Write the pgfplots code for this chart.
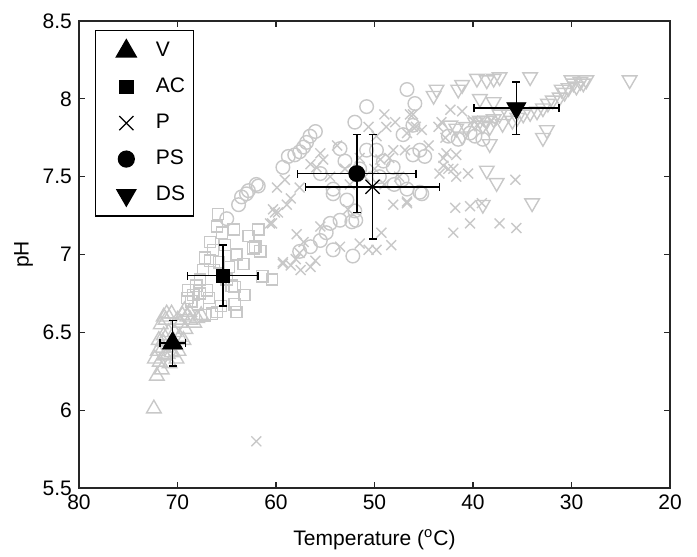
\documentclass[border=0pt]{standalone}
\usepackage{fontspec}
\setmainfont{Liberation Sans}
\usepackage{pgfplots}
\pgfplotsset{compat=1.18}
\definecolor{lg}{RGB}{200,200,200}

\pgfplotstableread{
T pH
72.4 6.01
72.1 6.22
71.6 6.26
72.3 6.33
71.8 6.31
71.3 6.35
72.0 6.38
71.5 6.40
71.0 6.36
70.6 6.37
71.9 6.45
71.4 6.48
70.9 6.50
71.7 6.55
71.2 6.58
71.1 6.62
71.4 6.60
70.3 6.50
69.8 6.47
69.4 6.45
69.2 6.52
69.7 6.56
70.0 6.58
69.5 6.61
69.0 6.60
68.7 6.58
68.3 6.56
68.0 6.59
67.6 6.61
68.8 6.63
69.3 6.64
70.4 6.42
70.8 6.30
69.9 6.38
71.5 6.44
70.1 6.33
70.6 6.62
}\vdata

\pgfplotstableread{
T pH
65.9 7.26
66.0 7.18
65.5 7.14
64.3 7.16
66.7 7.08
66.4 7.03
67.2 6.98
66.7 6.96
67.4 6.90
67.7 6.84
68.9 6.77
68.4 6.74
67.7 6.75
67.0 6.77
64.0 7.00
63.3 6.94
62.3 7.04
61.8 7.16
61.6 7.02
61.4 6.86
60.4 6.84
64.2 6.79
63.2 6.74
64.2 6.68
64.0 6.63
66.0 6.63
66.5 6.62
67.2 6.61
65.0 6.84
64.5 6.80
62.1 7.05
66.3 6.90
65.8 6.95
65.2 7.06
64.8 6.92
68.1 6.80
68.6 6.70
67.9 6.68
66.8 6.72
69.0 6.72
65.6 6.67
62.8 7.12
}\acdata

\pgfplotstableread{
T pH
55.5 7.65
55.2 7.61
55.9 7.56
57.6 7.43
59.9 7.43
59.1 7.48
60.3 7.29
59.8 7.27
58.9 7.32
60.6 7.20
50.6 7.82
49.8 7.76
48.8 7.82
47.9 7.85
49.4 7.61
48.1 7.67
46.9 7.67
46.1 7.90
45.8 7.82
45.2 7.80
48.1 7.32
46.7 7.34
52.7 7.29
43.2 7.85
42.8 7.75
43.0 7.62
42.5 7.55
57.9 7.13
57.2 7.08
55.5 7.18
51.5 7.07
50.6 7.03
49.8 7.03
48.3 7.06
49.3 7.14
53.5 7.05
57.6 7.01
59.3 6.95
58.5 6.93
57.5 6.90
56.5 6.92
58.0 6.97
56.0 6.96
60.1 7.27
60.4 7.20
59.3 6.94
42.3 7.93
41.1 7.92
40.0 7.86
39.3 7.85
38.1 7.86
43.5 7.82
46.4 7.90
46.1 7.82
46.7 7.78
42.7 7.65
41.7 7.64
43.0 7.57
42.0 7.55
41.7 7.50
40.5 7.52
43.4 7.52
35.7 7.48
41.8 7.30
40.3 7.31
39.1 7.33
40.3 7.20
42.0 7.14
37.3 7.20
35.6 7.17
46.7 7.33
62.0 5.80
52.5 7.45
51.0 7.50
50.0 7.55
49.0 7.45
47.5 7.50
48.5 7.62
51.5 7.62
53.0 7.55
54.5 7.50
56.5 7.58
58.5 7.36
53.8 7.70
49.0 7.90
44.5 7.70
}\pdata

\pgfplotstableread{
T pH
46.7 8.06
50.8 7.95
45.9 7.97
56.0 7.79
56.55 7.76
56.9 7.72
57.2 7.69
57.6 7.66
58.1 7.64
58.75 7.63
59.3 7.56
53.5 7.68
62.0 7.45
62.8 7.41
63.5 7.37
63.8 7.32
63.0 7.39
61.8 7.44
65.0 7.23
52.0 7.28
51.9 7.22
54.2 7.42
54.2 7.39
48.1 7.56
49.1 7.60
46.1 7.64
45.4 7.67
44.9 7.63
45.4 7.40
46.7 7.42
47.2 7.48
49.8 7.67
50.8 7.67
47.1 7.77
46.1 7.83
54.5 7.20
53.5 7.22
52.3 7.21
54.9 7.14
55.5 7.09
56.5 7.05
57.6 7.02
54.2 7.03
52.2 6.99
42.5 7.76
41.5 7.74
40.3 7.78
39.8 7.76
39.0 7.74
45.2 7.39
55.5 7.52
52.8 7.35
49.5 7.50
48.0 7.45
51.5 7.55
53.0 7.60
52.0 7.85
}\psdata

\pgfplotstableread{
T pH
24.1 8.12
34.2 8.14
37.3 8.14
37.9 8.13
38.6 8.12
39.6 8.13
41.1 8.09
41.5 8.06
43.7 8.06
44.0 8.02
39.3 8.00
37.9 7.98
28.5 8.12
29.1 8.11
29.8 8.10
30.3 8.07
30.7 8.04
31.2 8.01
31.9 7.99
32.4 7.97
32.9 7.94
33.5 7.92
34.2 7.91
34.9 7.90
36.4 7.90
37.3 7.90
37.9 7.87
38.6 7.86
39.0 7.83
38.3 7.82
39.3 7.86
39.8 7.85
42.3 7.83
41.7 7.81
40.7 7.82
41.1 7.76
38.3 7.71
32.5 7.80
32.9 7.75
38.6 7.54
37.6 7.46
39.0 7.32
34.0 7.33
28.8 8.10
29.5 8.08
30.0 8.12
31.0 8.06
35.5 7.88
36.0 7.86
37.0 7.84
}\dsdata

\begin{document}
\begin{tikzpicture}
\begin{axis}[
    scale only axis,
    width=295.5pt,
    height=233.5pt,
    font=\fontsize{10.5}{12}\selectfont,
    clip marker paths=true,
    x dir=reverse,
    xmin=20, xmax=80,
    ymin=5.5, ymax=8.5,
    xtick={20,30,40,50,60,70,80},
    ytick={5.5,6,6.5,7,7.5,8,8.5},
    /pgf/number format/assume math mode=true,
    tick align=inside,
    major tick length=3pt,
    axis line style={line width=0.6pt, black!85},
    tick style={line width=0.6pt, black!85},
    xlabel={Temperature (\textsuperscript{o}C)},
    ylabel={pH},
    xlabel style={yshift=-3pt},
    ylabel style={yshift=-2pt},
    legend style={at={(0.027,0.981)}, anchor=north west, draw=black,
        line width=0.6pt, row sep=5.2pt, inner xsep=2pt, inner ysep=4pt,
        font=\fontsize{10.5}{12}\selectfont},
    legend cell align=left,
    legend image code/.code={\path (0cm,0cm) (0.9cm,0cm);
        \draw[mark repeat=2,mark phase=2,#1]
        plot coordinates {(0cm,0cm) (0.46cm,0cm) (0.9cm,0cm)};},
    error bars/error bar style={line width=0.8pt, black},
    error bars/error mark options={rotate=90, mark size=2pt, line width=0.8pt, black},
]
% raw samples, light grey open marks
\addplot[only marks, mark=triangle, mark size=4.2pt, lg, line width=0.7pt, forget plot] table[x=T,y=pH] {\vdata};
\addplot[only marks, mark=square, mark size=2.8pt, lg, line width=0.7pt, forget plot] table[x=T,y=pH] {\acdata};
\addplot[only marks, mark=x, mark size=3.5pt, lg, line width=0.7pt, forget plot] table[x=T,y=pH] {\pdata};
\addplot[only marks, mark=o, mark size=3.4pt, lg, line width=0.7pt, forget plot] table[x=T,y=pH] {\psdata};
\addplot[only marks, mark=triangle, mark size=4.2pt, mark options={rotate=180}, lg, line width=0.7pt, forget plot] table[x=T,y=pH] {\dsdata};

% group means with standard deviations
\addplot[only marks, black, mark=triangle*, mark size=5.8pt,
    error bars/.cd, x dir=both, x explicit, y dir=both, y explicit]
    coordinates {(70.5,6.43) +- (1.3,0.145)};
\addplot[only marks, black, mark=square*, mark size=3.3pt,
    error bars/.cd, x dir=both, x explicit, y dir=both, y explicit]
    coordinates {(65.4,6.865) +- (3.6,0.195)};
\addplot[only marks, black, mark=x, mark size=5pt, line width=0.6pt,
    error bars/.cd, x dir=both, x explicit, y dir=both, y explicit]
    coordinates {(50.2,7.435) +- (6.8,0.335)};
\addplot[only marks, black, mark=*, mark size=4pt,
    error bars/.cd, x dir=both, x explicit, y dir=both, y explicit]
    coordinates {(51.8,7.52) +- (6.0,0.25)};
\addplot[only marks, black, mark=triangle*, mark size=5.5pt, mark options={rotate=180},
    error bars/.cd, x dir=both, x explicit, y dir=both, y explicit]
    coordinates {(35.6,7.94) +- (4.3,0.17)};
\legend{V,AC,P,PS,DS}
\end{axis}
\path (current axis.south west) ++(-39.5pt,-30pt);
\path (current axis.north east) ++(13.5pt,10.5pt);
\end{tikzpicture}
\end{document}
